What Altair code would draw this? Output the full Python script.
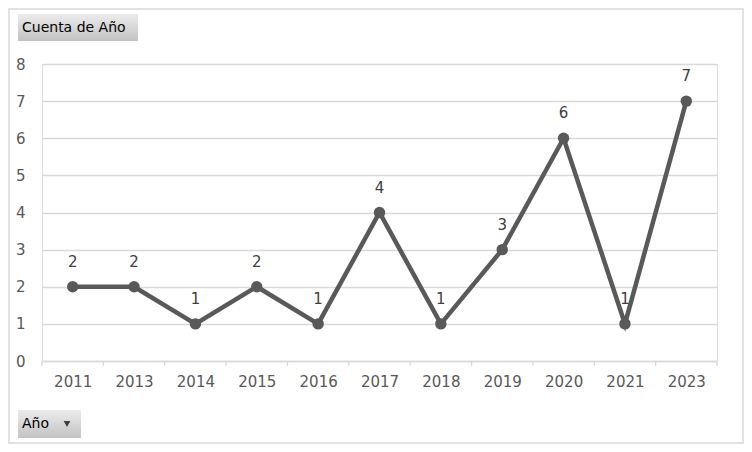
import altair as alt
import pandas as pd

years = ["2011", "2013", "2014", "2015", "2016", "2017", "2018", "2019", "2020", "2021", "2023"]
counts = [2, 2, 1, 2, 1, 4, 1, 3, 6, 1, 7]
y_ticks = [0, 1, 2, 3, 4, 5, 6, 7, 8]

df = pd.DataFrame({"Año": years, "Cuenta": counts})
one = pd.DataFrame({"k": [0]})

TW, TH = 736, 436
W, H = 675, 297
PL, PT = 34, 56
FONT = "DejaVu Sans"
step = W / len(years)

xs = alt.X("Año:N", sort=years,
           scale=alt.Scale(type="point", padding=0.5),
           axis=alt.Axis(title=None, labelAngle=0, ticks=False, grid=False,
                         domainColor="#d9d9d9", domainWidth=1.3,
                         labelFont=FONT, labelFontSize=15, labelColor="#595959",
                         labelPadding=13))
ys = alt.Y("Cuenta:Q", scale=alt.Scale(domain=[0, 8], nice=False),
           axis=alt.Axis(title=None, values=y_ticks, ticks=False, domain=False,
                         gridColor="#d9d9d9", gridWidth=1.3,
                         labelFont=FONT, labelFontSize=15, labelColor="#595959",
                         labelPadding=17))

base = alt.Chart(df)
line = base.mark_line(color="#595959", strokeWidth=4.5).encode(x=xs, y=ys)
pts = base.mark_point(filled=True, color="#595959", size=130, opacity=1).encode(x=xs, y=ys)
lbl = base.mark_text(font=FONT, fontSize=15, color="#404040", baseline="bottom", dy=-17).encode(
    x=xs, y=ys, text="Cuenta:Q")
ticks = base.mark_rule(color="#d9d9d9", strokeWidth=1.3).encode(
    x=xs, xOffset=alt.value(-step / 2), y=alt.value(H), y2=alt.value(H + 5))
last_tick = alt.Chart(one).mark_rule(color="#d9d9d9", strokeWidth=1.3).encode(
    x=alt.value(W), y=alt.value(H), y2=alt.value(H + 5))

grad = {"gradient": "linear", "x1": 0, "y1": 0, "x2": 0, "y2": 1,
        "stops": [{"offset": 0, "color": "#ececec"}, {"offset": 1, "color": "#c2c2c2"}]}

OX, OY = PL + 8, PT + 8  # page position of plot origin
btn1 = alt.Chart(one).mark_rect(fill=grad).encode(
    x=alt.value(18 - OX), x2=alt.value(138 - OX), y=alt.value(14 - OY), y2=alt.value(41 - OY))
btn1t = alt.Chart(one).mark_text(text="Cuenta de Año", font=FONT, fontSize=14, color="#000000",
                                 align="left", baseline="middle").encode(
    x=alt.value(22 - OX), y=alt.value(28 - OY))
btn2 = alt.Chart(one).mark_rect(fill=grad).encode(
    x=alt.value(18 - OX), x2=alt.value(81 - OX), y=alt.value(410 - OY), y2=alt.value(438 - OY))
btn2t = alt.Chart(one).mark_text(text="Año", font=FONT, fontSize=14, color="#000000",
                                 align="left", baseline="middle").encode(
    x=alt.value(22 - OX), y=alt.value(424 - OY))
arrow = alt.Chart(one).mark_point(shape="triangle-down", filled=True, color="#404040", size=45,
                                  opacity=1).encode(
    x=alt.value(67 - OX), y=alt.value(424 - OY))
border = alt.Chart(one).mark_rect(fill=None, stroke="#d9d9d9", strokeWidth=1.5).encode(
    x=alt.value(-PL + 1), x2=alt.value(TW - PL - 1), y=alt.value(-PT + 1), y2=alt.value(TH - PT - 1))

chart = alt.layer(border, ticks, last_tick, line, pts, lbl, btn1, btn1t, btn2, btn2t, arrow).properties(
    width=W, height=H,
    autosize=alt.AutoSizeParams(type="none"),
    padding={"left": PL, "top": PT, "right": TW - PL - W, "bottom": TH - PT - H},
).configure_view(stroke=None).configure(background="white")

chart.save("out.html", embed_options={"renderer": "svg", "actions": False})
